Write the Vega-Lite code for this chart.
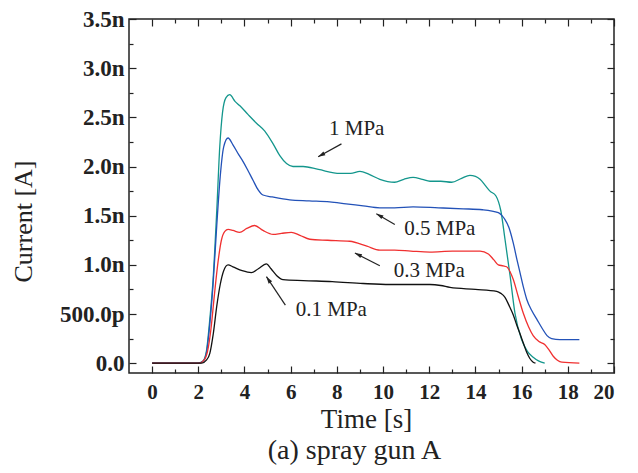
{
  "$schema": "https://vega.github.io/schema/vega-lite/v6.json",
  "width": 485,
  "height": 354,
  "autosize": "none",
  "padding": {"left": 129, "top": 19, "right": 24, "bottom": 100},
  "background": "white",
  "config": {
    "view": {"stroke": "#222", "strokeWidth": 1.5},
    "font": "Liberation Serif",
    "axis": {"grid": false, "domain": false, "tickColor": "#222", "tickWidth": 1.2, "labelFont": "Liberation Serif", "titleFont": "Liberation Serif"}
  },
  "title": {"text": "(a) spray gun A", "orient": "bottom", "fontSize": 28, "font": "Liberation Serif", "fontWeight": "normal", "color": "#222", "offset": 5, "dx": -17, "anchor": "middle"},
  "datasets": {
    "curves": [
      {"t": 0, "i": 0, "p": "1 MPa"}, {"t": 2.0, "i": 0, "p": "1 MPa"}, {"t": 2.2, "i": 0.02, "p": "1 MPa"}, {"t": 2.35, "i": 0.12, "p": "1 MPa"}, {"t": 2.5, "i": 0.45, "p": "1 MPa"}, {"t": 2.64, "i": 0.85, "p": "1 MPa"}, {"t": 2.8, "i": 1.55, "p": "1 MPa"}, {"t": 2.93, "i": 2.2, "p": "1 MPa"}, {"t": 3.05, "i": 2.55, "p": "1 MPa"}, {"t": 3.2, "i": 2.7, "p": "1 MPa"}, {"t": 3.36, "i": 2.73, "p": "1 MPa"}, {"t": 3.6, "i": 2.66, "p": "1 MPa"}, {"t": 3.79, "i": 2.62, "p": "1 MPa"}, {"t": 4.15, "i": 2.53, "p": "1 MPa"}, {"t": 4.52, "i": 2.44, "p": "1 MPa"}, {"t": 4.88, "i": 2.36, "p": "1 MPa"}, {"t": 5.24, "i": 2.23, "p": "1 MPa"}, {"t": 5.53, "i": 2.11, "p": "1 MPa"}, {"t": 5.82, "i": 2.03, "p": "1 MPa"}, {"t": 6.1, "i": 2.0, "p": "1 MPa"}, {"t": 6.54, "i": 2.0, "p": "1 MPa"}, {"t": 7.2, "i": 1.97, "p": "1 MPa"}, {"t": 8.13, "i": 1.93, "p": "1 MPa"}, {"t": 8.6, "i": 1.93, "p": "1 MPa"}, {"t": 9.0, "i": 1.95, "p": "1 MPa"}, {"t": 9.4, "i": 1.92, "p": "1 MPa"}, {"t": 9.86, "i": 1.87, "p": "1 MPa"}, {"t": 10.5, "i": 1.84, "p": "1 MPa"}, {"t": 10.9, "i": 1.87, "p": "1 MPa"}, {"t": 11.3, "i": 1.89, "p": "1 MPa"}, {"t": 11.7, "i": 1.87, "p": "1 MPa"}, {"t": 12.03, "i": 1.85, "p": "1 MPa"}, {"t": 12.5, "i": 1.85, "p": "1 MPa"}, {"t": 12.97, "i": 1.84, "p": "1 MPa"}, {"t": 13.4, "i": 1.88, "p": "1 MPa"}, {"t": 13.76, "i": 1.91, "p": "1 MPa"}, {"t": 14.0, "i": 1.9, "p": "1 MPa"}, {"t": 14.2, "i": 1.87, "p": "1 MPa"}, {"t": 14.45, "i": 1.8, "p": "1 MPa"}, {"t": 14.63, "i": 1.75, "p": "1 MPa"}, {"t": 14.89, "i": 1.7, "p": "1 MPa"}, {"t": 15.0, "i": 1.64, "p": "1 MPa"}, {"t": 15.1, "i": 1.55, "p": "1 MPa"}, {"t": 15.28, "i": 1.26, "p": "1 MPa"}, {"t": 15.5, "i": 0.89, "p": "1 MPa"}, {"t": 15.71, "i": 0.51, "p": "1 MPa"}, {"t": 16.0, "i": 0.24, "p": "1 MPa"}, {"t": 16.25, "i": 0.12, "p": "1 MPa"}, {"t": 16.5, "i": 0.06, "p": "1 MPa"}, {"t": 16.75, "i": 0.02, "p": "1 MPa"}, {"t": 17.0, "i": 0.0, "p": "1 MPa"},

      {"t": 0, "i": 0, "p": "0.5 MPa"}, {"t": 2.0, "i": 0, "p": "0.5 MPa"}, {"t": 2.2, "i": 0.02, "p": "0.5 MPa"}, {"t": 2.35, "i": 0.1, "p": "0.5 MPa"}, {"t": 2.5, "i": 0.4, "p": "0.5 MPa"}, {"t": 2.64, "i": 0.8, "p": "0.5 MPa"}, {"t": 2.8, "i": 1.4, "p": "0.5 MPa"}, {"t": 2.95, "i": 1.9, "p": "0.5 MPa"}, {"t": 3.1, "i": 2.2, "p": "0.5 MPa"}, {"t": 3.29, "i": 2.29, "p": "0.5 MPa"}, {"t": 3.5, "i": 2.22, "p": "0.5 MPa"}, {"t": 3.75, "i": 2.12, "p": "0.5 MPa"}, {"t": 3.94, "i": 2.05, "p": "0.5 MPa"}, {"t": 4.15, "i": 1.96, "p": "0.5 MPa"}, {"t": 4.37, "i": 1.86, "p": "0.5 MPa"}, {"t": 4.6, "i": 1.76, "p": "0.5 MPa"}, {"t": 4.8, "i": 1.71, "p": "0.5 MPa"}, {"t": 5.2, "i": 1.69, "p": "0.5 MPa"}, {"t": 5.96, "i": 1.66, "p": "0.5 MPa"}, {"t": 6.8, "i": 1.65, "p": "0.5 MPa"}, {"t": 7.69, "i": 1.64, "p": "0.5 MPa"}, {"t": 8.4, "i": 1.62, "p": "0.5 MPa"}, {"t": 9.14, "i": 1.6, "p": "0.5 MPa"}, {"t": 9.86, "i": 1.58, "p": "0.5 MPa"}, {"t": 10.5, "i": 1.58, "p": "0.5 MPa"}, {"t": 11.3, "i": 1.59, "p": "0.5 MPa"}, {"t": 12.4, "i": 1.58, "p": "0.5 MPa"}, {"t": 13.47, "i": 1.57, "p": "0.5 MPa"}, {"t": 14.3, "i": 1.56, "p": "0.5 MPa"}, {"t": 14.99, "i": 1.53, "p": "0.5 MPa"}, {"t": 15.15, "i": 1.5, "p": "0.5 MPa"}, {"t": 15.28, "i": 1.46, "p": "0.5 MPa"}, {"t": 15.45, "i": 1.38, "p": "0.5 MPa"}, {"t": 15.64, "i": 1.22, "p": "0.5 MPa"}, {"t": 15.8, "i": 1.05, "p": "0.5 MPa"}, {"t": 15.93, "i": 0.92, "p": "0.5 MPa"}, {"t": 16.08, "i": 0.77, "p": "0.5 MPa"}, {"t": 16.22, "i": 0.65, "p": "0.5 MPa"}, {"t": 16.45, "i": 0.53, "p": "0.5 MPa"}, {"t": 16.65, "i": 0.45, "p": "0.5 MPa"}, {"t": 16.9, "i": 0.35, "p": "0.5 MPa"}, {"t": 17.1, "i": 0.28, "p": "0.5 MPa"}, {"t": 17.3, "i": 0.25, "p": "0.5 MPa"}, {"t": 17.66, "i": 0.24, "p": "0.5 MPa"}, {"t": 18.5, "i": 0.24, "p": "0.5 MPa"},

      {"t": 0, "i": 0, "p": "0.3 MPa"}, {"t": 2.05, "i": 0, "p": "0.3 MPa"}, {"t": 2.25, "i": 0.03, "p": "0.3 MPa"}, {"t": 2.4, "i": 0.12, "p": "0.3 MPa"}, {"t": 2.55, "i": 0.35, "p": "0.3 MPa"}, {"t": 2.7, "i": 0.7, "p": "0.3 MPa"}, {"t": 2.85, "i": 1.02, "p": "0.3 MPa"}, {"t": 3.0, "i": 1.25, "p": "0.3 MPa"}, {"t": 3.15, "i": 1.34, "p": "0.3 MPa"}, {"t": 3.29, "i": 1.36, "p": "0.3 MPa"}, {"t": 3.5, "i": 1.35, "p": "0.3 MPa"}, {"t": 3.79, "i": 1.33, "p": "0.3 MPa"}, {"t": 4.1, "i": 1.37, "p": "0.3 MPa"}, {"t": 4.44, "i": 1.4, "p": "0.3 MPa"}, {"t": 4.8, "i": 1.35, "p": "0.3 MPa"}, {"t": 5.24, "i": 1.31, "p": "0.3 MPa"}, {"t": 5.6, "i": 1.32, "p": "0.3 MPa"}, {"t": 6.03, "i": 1.33, "p": "0.3 MPa"}, {"t": 6.4, "i": 1.3, "p": "0.3 MPa"}, {"t": 6.83, "i": 1.26, "p": "0.3 MPa"}, {"t": 7.6, "i": 1.25, "p": "0.3 MPa"}, {"t": 8.56, "i": 1.24, "p": "0.3 MPa"}, {"t": 9.3, "i": 1.19, "p": "0.3 MPa"}, {"t": 9.86, "i": 1.15, "p": "0.3 MPa"}, {"t": 10.5, "i": 1.15, "p": "0.3 MPa"}, {"t": 11.2, "i": 1.14, "p": "0.3 MPa"}, {"t": 12.03, "i": 1.13, "p": "0.3 MPa"}, {"t": 13.0, "i": 1.14, "p": "0.3 MPa"}, {"t": 14.2, "i": 1.14, "p": "0.3 MPa"}, {"t": 14.56, "i": 1.11, "p": "0.3 MPa"}, {"t": 14.8, "i": 1.05, "p": "0.3 MPa"}, {"t": 14.99, "i": 1.0, "p": "0.3 MPa"}, {"t": 15.2, "i": 0.99, "p": "0.3 MPa"}, {"t": 15.35, "i": 0.98, "p": "0.3 MPa"}, {"t": 15.5, "i": 0.93, "p": "0.3 MPa"}, {"t": 15.64, "i": 0.85, "p": "0.3 MPa"}, {"t": 15.85, "i": 0.68, "p": "0.3 MPa"}, {"t": 16.07, "i": 0.51, "p": "0.3 MPa"}, {"t": 16.3, "i": 0.37, "p": "0.3 MPa"}, {"t": 16.5, "i": 0.28, "p": "0.3 MPa"}, {"t": 16.75, "i": 0.22, "p": "0.3 MPa"}, {"t": 17.0, "i": 0.19, "p": "0.3 MPa"}, {"t": 17.2, "i": 0.13, "p": "0.3 MPa"}, {"t": 17.37, "i": 0.07, "p": "0.3 MPa"}, {"t": 17.55, "i": 0.03, "p": "0.3 MPa"}, {"t": 17.74, "i": 0.01, "p": "0.3 MPa"}, {"t": 18.5, "i": 0.0, "p": "0.3 MPa"},

      {"t": 0, "i": 0, "p": "0.1 MPa"}, {"t": 2.15, "i": 0, "p": "0.1 MPa"}, {"t": 2.35, "i": 0.03, "p": "0.1 MPa"}, {"t": 2.5, "i": 0.1, "p": "0.1 MPa"}, {"t": 2.65, "i": 0.3, "p": "0.1 MPa"}, {"t": 2.8, "i": 0.58, "p": "0.1 MPa"}, {"t": 2.95, "i": 0.8, "p": "0.1 MPa"}, {"t": 3.1, "i": 0.94, "p": "0.1 MPa"}, {"t": 3.29, "i": 1.0, "p": "0.1 MPa"}, {"t": 3.5, "i": 0.98, "p": "0.1 MPa"}, {"t": 3.9, "i": 0.94, "p": "0.1 MPa"}, {"t": 4.3, "i": 0.92, "p": "0.1 MPa"}, {"t": 4.6, "i": 0.96, "p": "0.1 MPa"}, {"t": 4.95, "i": 1.01, "p": "0.1 MPa"}, {"t": 5.15, "i": 0.96, "p": "0.1 MPa"}, {"t": 5.4, "i": 0.89, "p": "0.1 MPa"}, {"t": 5.67, "i": 0.85, "p": "0.1 MPa"}, {"t": 6.54, "i": 0.84, "p": "0.1 MPa"}, {"t": 7.8, "i": 0.83, "p": "0.1 MPa"}, {"t": 9.14, "i": 0.81, "p": "0.1 MPa"}, {"t": 10.3, "i": 0.8, "p": "0.1 MPa"}, {"t": 11.0, "i": 0.8, "p": "0.1 MPa"}, {"t": 12.03, "i": 0.8, "p": "0.1 MPa"}, {"t": 12.5, "i": 0.79, "p": "0.1 MPa"}, {"t": 12.9, "i": 0.77, "p": "0.1 MPa"}, {"t": 14.0, "i": 0.75, "p": "0.1 MPa"}, {"t": 14.92, "i": 0.73, "p": "0.1 MPa"}, {"t": 15.1, "i": 0.71, "p": "0.1 MPa"}, {"t": 15.28, "i": 0.67, "p": "0.1 MPa"}, {"t": 15.45, "i": 0.59, "p": "0.1 MPa"}, {"t": 15.64, "i": 0.49, "p": "0.1 MPa"}, {"t": 15.8, "i": 0.38, "p": "0.1 MPa"}, {"t": 15.93, "i": 0.3, "p": "0.1 MPa"}, {"t": 16.08, "i": 0.2, "p": "0.1 MPa"}, {"t": 16.22, "i": 0.11, "p": "0.1 MPa"}, {"t": 16.35, "i": 0.05, "p": "0.1 MPa"}, {"t": 16.5, "i": 0.01, "p": "0.1 MPa"}, {"t": 16.6, "i": 0.0, "p": "0.1 MPa"}
    ],
    "labels": [
      {"label": "1 MPa", "t": 8.86, "i": 2.38},
      {"label": "0.5 MPa", "t": 12.46, "i": 1.36},
      {"label": "0.3 MPa", "t": 12.0, "i": 0.94},
      {"label": "0.1 MPa", "t": 7.76, "i": 0.54}
    ],
    "arrows": [
      {"t": 8.2, "i": 2.23, "t2": 7.19, "i2": 2.1, "angle": 242},
      {"t": 10.51, "i": 1.41, "t2": 9.71, "i2": 1.52, "angle": 300},
      {"t": 9.86, "i": 0.99, "t2": 8.78, "i2": 1.12, "angle": 296},
      {"t": 5.77, "i": 0.59, "t2": 4.95, "i2": 0.88, "angle": 326}
    ]
  },
  "layer": [
    {
      "data": {"name": "curves"},
      "mark": {"type": "line", "interpolate": "monotone", "strokeWidth": 1.3},
      "encoding": {
        "x": {"field": "t", "type": "quantitative", "scale": {"domain": [-1, 20], "nice": false, "zero": false},
          "axis": {"orient": "bottom", "values": [0, 2, 4, 6, 8, 10, 12, 14, 16, 18, 20], "tickSize": -7, "labelPadding": 15, "labelFontSize": 21, "labelFontWeight": "bold", "labelColor": "#222", "format": "d",
            "title": "Time [s]", "titleFontSize": 27, "titleFontWeight": "normal", "titleColor": "#222", "titleX": 237, "titleY": 46, "titleBaseline": "middle", "titleAlign": "center"}},
        "y": {"field": "i", "type": "quantitative", "scale": {"domain": [-0.1, 3.5], "nice": false, "zero": false},
          "axis": {"orient": "left", "values": [0, 0.5, 1, 1.5, 2, 2.5, 3, 3.5], "tickSize": -7, "labelPadding": 12, "labelFontSize": 23, "labelFontWeight": "bold", "labelColor": "#222",
            "labelExpr": "datum.value == 0 ? '0.0' : (datum.value == 0.5 ? '500.0p' : format(datum.value, '.1f') + 'n')",
            "title": "Current [A]", "titleFontSize": 26, "titleFontWeight": "normal", "titleColor": "#222", "titleX": -106, "titleY": 202, "titleAngle": -90, "titleBaseline": "middle", "titleAlign": "center"}},
        "color": {"field": "p", "type": "nominal", "scale": {"domain": ["0.1 MPa", "0.3 MPa", "0.5 MPa", "1 MPa"], "range": ["#111111", "#f03030", "#2352b8", "#13968c"]}, "legend": null},
        "order": {"field": "t", "type": "quantitative"}
      }
    },
    {
      "data": {"name": "curves"},
      "mark": {"type": "point", "opacity": 0},
      "encoding": {
        "x": {"field": "t", "type": "quantitative", "axis": {"orient": "bottom", "values": [1, 3, 5, 7, 9, 11, 13, 15, 17, 19], "tickSize": -4, "labels": false, "title": null}},
        "y": {"field": "i", "type": "quantitative", "axis": {"orient": "left", "values": [0.25, 0.75, 1.25, 1.75, 2.25, 2.75, 3.25], "tickSize": -4, "labels": false, "title": null}}
      }
    },
    {
      "data": {"name": "curves"},
      "mark": {"type": "point", "opacity": 0},
      "encoding": {
        "x": {"field": "t", "type": "quantitative", "axis": {"orient": "top", "values": [0, 2, 4, 6, 8, 10, 12, 14, 16, 18, 20], "tickSize": -7, "labels": false, "title": null}},
        "y": {"field": "i", "type": "quantitative", "axis": {"orient": "right", "values": [0, 0.5, 1, 1.5, 2, 2.5, 3, 3.5], "tickSize": -7, "labels": false, "title": null}}
      }
    },
    {
      "data": {"name": "curves"},
      "mark": {"type": "point", "opacity": 0},
      "encoding": {
        "x": {"field": "t", "type": "quantitative", "axis": {"orient": "top", "values": [1, 3, 5, 7, 9, 11, 13, 15, 17, 19], "tickSize": -4, "labels": false, "title": null}},
        "y": {"field": "i", "type": "quantitative", "axis": {"orient": "right", "values": [0.25, 0.75, 1.25, 1.75, 2.25, 2.75, 3.25], "tickSize": -4, "labels": false, "title": null}}
      }
    },
    {
      "data": {"name": "labels"},
      "mark": {"type": "text", "font": "Liberation Serif", "fontSize": 21, "color": "#222", "align": "center", "baseline": "middle"},
      "encoding": {
        "x": {"field": "t", "type": "quantitative", "axis": null},
        "y": {"field": "i", "type": "quantitative", "axis": null},
        "text": {"field": "label"}
      }
    },
    {
      "data": {"name": "arrows"},
      "mark": {"type": "rule", "color": "#222", "strokeWidth": 1.2},
      "encoding": {
        "x": {"field": "t", "type": "quantitative", "axis": null},
        "y": {"field": "i", "type": "quantitative", "axis": null},
        "x2": {"field": "t2"},
        "y2": {"field": "i2"}
      }
    },
    {
      "data": {"name": "arrows"},
      "mark": {"type": "point", "shape": "M0,0L-0.3,1L0.3,1Z", "filled": true, "color": "#222", "size": 200, "opacity": 1},
      "encoding": {
        "x": {"field": "t2", "type": "quantitative", "axis": null},
        "y": {"field": "i2", "type": "quantitative", "axis": null},
        "angle": {"field": "angle", "type": "quantitative", "scale": null}
      }
    }
  ],
  "resolve": {"axis": {"x": "independent", "y": "independent"}}
}
